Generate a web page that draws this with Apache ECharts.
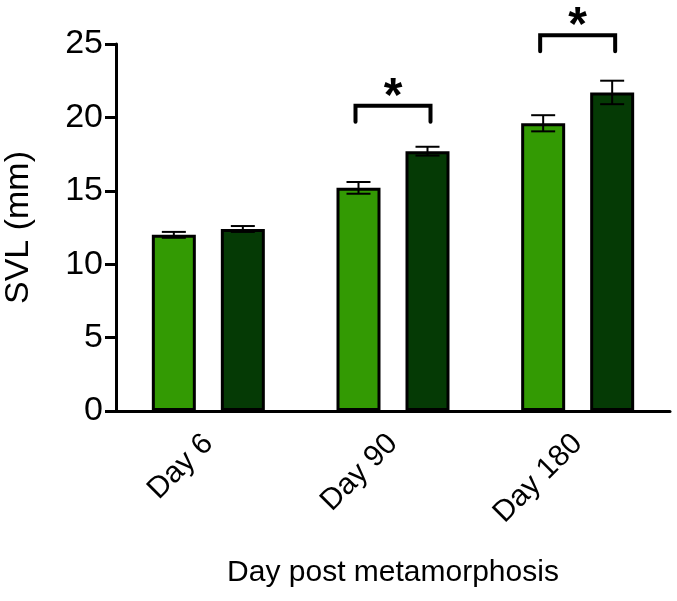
<!DOCTYPE html>
<html>
<head>
<meta charset="utf-8">
<script src="https://cdn.jsdelivr.net/npm/echarts@6/dist/echarts.min.js"></script>
<style>
html,body{margin:0;padding:0;background:#fff;}
#chart{width:677px;height:601px;}
</style>
</head>
<body>
<div id="chart"></div>
<script>
// ---- data ----
var categories = ['Day 6', 'Day 90', 'Day 180'];
var lightMean = [12.0, 15.2, 19.6];
var lightErr = [0.2, 0.4, 0.55];
var darkMean = [12.4, 17.7, 21.7];
var darkErr = [0.2, 0.3, 0.8];
var yTicks = [0, 5, 10, 15, 20, 25];
var sigCategory = [1, 2];
var sigBracketTop = [20.8, 25.6];
var sigBracketLeg = [19.7, 24.5];
var sigLabel = ['*', '*'];

// ---- style constants ----
var FONT = '"Liberation Sans", Arial, sans-serif';
var BAR_W = 44, BAR_GAP_PX = 25;
var OFFSET = (BAR_W + BAR_GAP_PX) / 2;
var CAP = 12;

var chart = echarts.init(document.getElementById('chart'), null, {renderer: 'canvas'});

function errData(mean, err) {
  return mean.map(function (m, i) { return [i, m, err[i]]; });
}

function errRender(sign) {
  return function (params, api) {
    var c = api.value(0), m = api.value(1), e = api.value(2);
    var pHi = api.coord([c, m + e]);
    var pLo = api.coord([c, m - e]);
    var x = pHi[0] + sign * OFFSET;
    var st = {stroke: '#000', lineWidth: 2};
    return {
      type: 'group',
      children: [
        {type: 'line', shape: {x1: x, y1: pHi[1], x2: x, y2: pLo[1]}, style: st},
        {type: 'line', shape: {x1: x - CAP, y1: pHi[1], x2: x + CAP, y2: pHi[1]}, style: st},
        {type: 'line', shape: {x1: x - CAP, y1: pLo[1], x2: x + CAP, y2: pLo[1]}, style: st}
      ]
    };
  };
}

var sigData = sigCategory.map(function (c, i) { return [c, sigBracketTop[i], sigBracketLeg[i], sigLabel[i]]; });

var option = {
  animation: false,
  backgroundColor: '#fff',
  grid: {left: 116, right: 7, top: 44, bottom: 190, containLabel: false, outerBoundsMode: 'none'},
  xAxis: {
    type: 'category',
    data: categories,
    boundaryGap: true,
    name: 'Day post metamorphosis',
    nameLocation: 'middle',
    nameGap: 147,
    nameTextStyle: {fontFamily: FONT, fontSize: 30, color: '#000'},
    axisLine: {lineStyle: {color: '#000', width: 3}},
    axisTick: {alignWithLabel: true, length: 10, lineStyle: {color: '#000', width: 3}},
    axisLabel: {rotate: 45, margin: 28, fontFamily: FONT, fontSize: 30, color: '#000'}
  },
  yAxis: {
    type: 'value',
    min: yTicks[0],
    max: yTicks[yTicks.length - 1],
    interval: yTicks[1] - yTicks[0],
    name: 'SVL (mm)',
    nameLocation: 'middle',
    nameGap: 80,
    nameTextStyle: {fontFamily: FONT, fontSize: 34, color: '#000'},
    axisLine: {show: true, lineStyle: {color: '#000', width: 3}},
    axisTick: {show: true, length: 11, lineStyle: {color: '#000', width: 3}},
    axisLabel: {margin: 13, fontFamily: FONT, fontSize: 34, color: '#000'},
    splitLine: {show: false}
  },
  series: [
    {
      type: 'bar', name: 'light', data: lightMean,
      barWidth: BAR_W, barGap: (BAR_GAP_PX / BAR_W * 100) + '%',
      itemStyle: {color: '#339a03', borderColor: '#000', borderWidth: 3}
    },
    {
      type: 'bar', name: 'dark', data: darkMean,
      barWidth: BAR_W,
      itemStyle: {color: '#053a05', borderColor: '#000', borderWidth: 3}
    },
    {
      type: 'custom', data: errData(lightMean, lightErr), renderItem: errRender(-1), z: 10,
      encode: {x: 0, y: 1}
    },
    {
      type: 'custom', data: errData(darkMean, darkErr), renderItem: errRender(1), z: 10,
      encode: {x: 0, y: 1}
    },
    {
      type: 'custom', data: sigData, z: 10, clip: false,
      encode: {x: 0, y: 1},
      renderItem: function (params, api) {
        var c = api.value(0);
        var pTop = api.coord([c, api.value(1)]);
        var pLeg = api.coord([c, api.value(2)]);
        var x1 = pTop[0] - OFFSET - 3, x2 = pTop[0] + OFFSET + 3;
        var st = {stroke: '#000', lineWidth: 4, lineCap: 'round', lineJoin: 'miter', fill: null};
        return {
          type: 'group',
          children: [
            {type: 'polyline', shape: {points: [[x1, pLeg[1]], [x1, pTop[1]], [x2, pTop[1]], [x2, pLeg[1]]]}, style: st},
            {type: 'text', style: {x: pTop[0], y: pTop[1] - 8, text: api.value(3), fontFamily: FONT, fontWeight: 'bold', fontSize: 48, fill: '#000', align: 'center', verticalAlign: 'middle'}}
          ]
        };
      }
    }
  ]
};
chart.setOption(option);
</script>
</body>
</html>
